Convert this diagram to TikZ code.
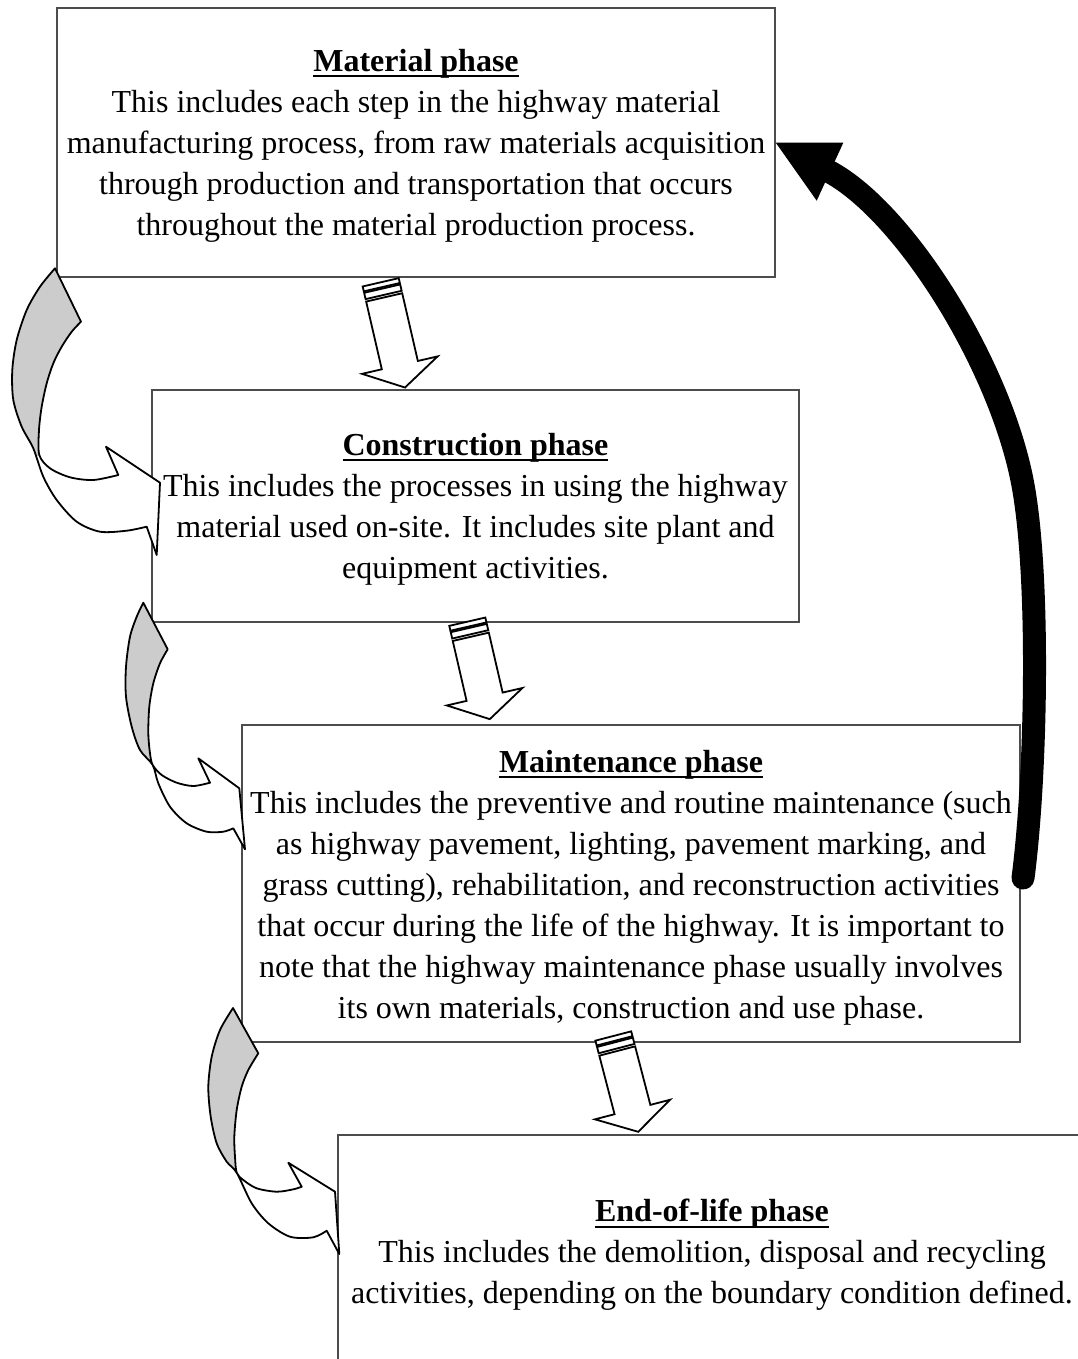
\documentclass[tikz,border=0pt]{standalone}
\usepackage{fontspec}
\setmainfont{Liberation Serif}

% bold, underlined phase title
\newcommand\ulbar[1]{\setbox0=\hbox{#1}\rlap{\rule[-6pt]{\wd0}{2pt}}\box0}
\newcommand\phasetitle[1]{\ulbar{\bfseries #1}}

% striped block arrow pointing down: #1 top point, #2 tilt, #3 length
\newcommand\blockdown[3]{%
  \begin{scope}[shift={#1}, rotate=#2]
    \filldraw[stripeline] (-18.5,0) -- (18.5,0) -- (18.5,5) -- (-18.5,5) -- cycle;
    \filldraw[stripeline] (-18.5,6.5) -- (18.5,6.5) -- (18.5,13) -- (-18.5,13) -- cycle;
    \filldraw[stripeline] (-18.5,15.5) -- (18.5,15.5) -- (18.5,#3-23) -- (38.8,#3-23)
      -- (0,#3) -- (-38.8,#3-23) -- (-18.5,#3-23) -- cycle;
  \end{scope}}

% outlines of the three curved arrows on the left
\newcommand\bendone{(55,268.3) -- (81,321.7)
  -- plot[smooth] coordinates {(81,321.7) (71.7,331.7) (61.7,346.7) (53.3,363.3) (46.7,383.3)
     (41.7,406.7) (39,430) (39.3,455) (50,468.3) (70,477.3) (93.3,480) (118.3,475)}
  -- (106,446.7) -- (160,482.7) -- (156.7,555) -- (146.7,526.7)
  -- plot[smooth] coordinates {(146.7,526.7) (126.7,530.7) (100,531.7) (76.7,521.7) (56.7,500)
     (43.3,476.7) (33.3,448.3) (21.7,426.7) (13.3,400) (12.3,370) (16.7,340) (26.7,310)
     (40,286.7) (55,268.3)}
  -- cycle}
\newcommand\bendtwo{(143.3,602.7) -- (167.7,649.3)
  -- plot[smooth] coordinates {(167.7,649.3) (160,663.3) (153.3,683.3) (149.3,706.7)
     (148.3,733.3) (150,753.3) (152.7,765) (161.7,775) (176.7,782.7) (193.3,786) (210,782.7)}
  -- (198.3,758.3) -- (239.3,788.3) -- (245,849.3) -- (233.3,828.3)
  -- plot[smooth] coordinates {(233.3,828.3) (223.3,831.7) (206.7,831.7) (186.7,823.3)
     (170,806.7) (158.3,783.3) (152.7,765) (140,750) (131.7,726.7) (126,696.7) (126,666.7)
     (130,636.7) (136.7,616.7) (143.3,602.7)}
  -- cycle}
\newcommand\bendthree{(233,1008) -- (258.3,1053.3)
  -- plot[smooth] coordinates {(258.3,1053.3) (248.3,1070) (241.7,1086.7) (236.7,1110)
     (234.3,1136.7) (235,1156.7) (236.7,1172.7) (243.3,1180) (256.7,1188.3) (276.7,1191.7)
     (293.3,1189.3) (301.7,1186.7)}
  -- (288.3,1162.7) -- (335,1191.7) -- (339.3,1254) -- (326.7,1230.7)
  -- plot[smooth] coordinates {(326.7,1230.7) (313.3,1237.3) (290,1236.7) (268.3,1223.3)
     (251.7,1203.3) (236.7,1172.7) (226.7,1161.7) (216.7,1143.3) (210.7,1116.7)
     (208.3,1086.7) (211.7,1056.7) (220,1030) (233,1008)}
  -- cycle}

\begin{document}
\begin{tikzpicture}[x=1pt, y=-1pt,
  phasebox/.style={draw=black!70, line width=1.3pt, fill=white, inner sep=0pt},
  phasetext/.style={align=center, inner sep=0pt, font=\fontsize{32}{41}\selectfont},
  stripeline/.style={draw=black, fill=white, line width=1.8pt, line join=miter},
  bandline/.style={draw=black, line width=1.8pt, line join=round},
  bandfront/.style={fill=white},
  bandback/.style={fill=black!20},
  feedback/.style={line width=23pt, line cap=round},
]
\useasboundingbox (0,0) rectangle (1078,1359);
\clip (0,0) rectangle (1078,1359);
\fill[white] (0,0) rectangle (1078,1359);

% phase boxes
\node[phasebox, minimum width=718pt, minimum height=269pt] (mat) at (416,142.5) {};
\node[phasebox, minimum width=647pt, minimum height=232pt] (con) at (475.5,506) {};
\node[phasebox, minimum width=778pt, minimum height=317pt] (mnt) at (631,883.5) {};
\node[phasebox, minimum width=748pt, minimum height=237pt] (eol) at (712,1253.5) {};

% phase descriptions
\node[phasetext] (mattext) at ([yshift=-3pt]mat.center)
  {\phasetitle{Material phase}\\
   This includes each step in the highway material\\
   manufacturing process, from raw materials acquisition\\
   through production and transportation that occurs\\
   throughout the material production process.};
\node[phasetext] (context) at ([yshift=-3pt]con.center)
  {\phasetitle{Construction phase}\\
   This includes the processes in using the highway\\
   material used on-site. It includes site plant and\\
   equipment activities.};
\node[phasetext] (mnttext) at ([yshift=-4pt]mnt.center)
  {\phasetitle{Maintenance phase}\\
   This includes the preventive and routine maintenance (such\\
   as highway pavement, lighting, pavement marking, and\\
   grass cutting), rehabilitation, and reconstruction activities\\
   that occur during the life of the highway. It is important to\\
   note that the highway maintenance phase usually involves\\
   its own materials, construction and use phase.};
\node[phasetext] (eoltext) at ([yshift=-1.5pt]eol.center)
  {\phasetitle{End-of-life phase}\\
   This includes the demolition, disposal and recycling\\
   activities, depending on the boundary condition defined.};

% striped arrows between consecutive phases
\coordinate (sa) at (380.7,282.3);
\coordinate (sb) at (467.3,621.7);
\coordinate (sc) at (613.3,1036);
\blockdown{(sa)}{13}{108}
\blockdown{(sb)}{13}{100}
\blockdown{(sc)}{14.6}{99}

% curved arrows on the left
\fill[bandfront] \bendone;
\begin{scope}\clip (0,250) rectangle (88,455); \fill[bandback] \bendone; \end{scope}
\draw[bandline] \bendone;

\fill[bandfront] \bendtwo;
\begin{scope}\clip (100,590) rectangle (172,765); \fill[bandback] \bendtwo; \end{scope}
\draw[bandline] \bendtwo;

\fill[bandfront] \bendthree;
\begin{scope}\clip (190,995) rectangle (262,1172); \fill[bandback] \bendthree; \end{scope}
\draw[bandline] \bendthree;

% feedback arrow from maintenance back to material
\coordinate (fbTail) at (1023,878);
\coordinate (fbMid) at (1022,480);
\coordinate (fbBase) at (830,172);
\draw[feedback] (fbTail) .. controls (1037,770) and (1040,570) .. (fbMid)
  .. controls (998.6,363) and (905,213) .. (fbBase);
\fill (mat.east) -- (843.3,142.7) -- (816.7,200.7) -- cycle;
\end{tikzpicture}
\end{document}
